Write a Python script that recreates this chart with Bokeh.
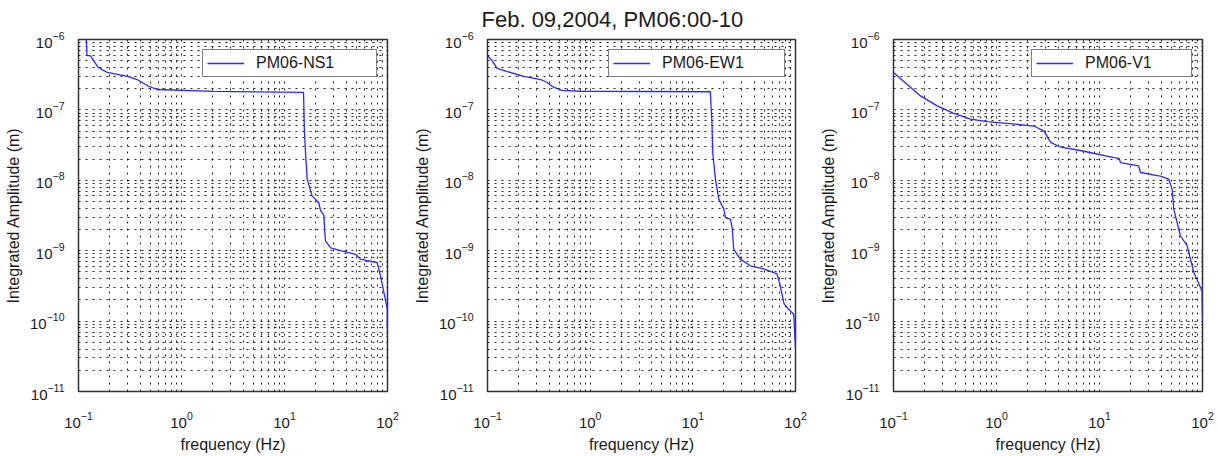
from bokeh.plotting import figure
from bokeh.layouts import row
from bokeh.models import Range1d, FixedTicker, Legend, LegendItem, Title
from bokeh.embed import file_html
from bokeh.resources import INLINE

# ---------------- data ----------------
ns1_freq = [0.119, 0.121, 0.13, 0.156, 0.19, 0.30, 0.37, 0.47, 0.58, 2.05, 15.3,
            15.6, 16.0, 16.6, 18.5, 21.5, 22.4, 24.1, 24.5, 25.0, 28, 35, 48.9,
            54.7, 63.5, 79.4, 85.5, 92, 99.4, 100]
ns1_amp = [1.0e-6, 5.9e-7, 5.9e-7, 4.0e-7, 3.4e-7, 3.0e-7, 2.7e-7, 2.2e-7, 1.95e-7,
           1.83e-7, 1.77e-7, 5.0e-8, 2.5e-8, 1.04e-8, 6.0e-9, 4.8e-9, 3.7e-9,
           3.2e-9, 2.0e-9, 1.38e-9, 1.1e-9, 1.0e-9, 8.9e-10, 7.6e-10, 7.2e-10,
           6.8e-10, 4.4e-10, 2.6e-10, 1.5e-10, 6.0e-11]

ew1_freq = [0.1, 0.111, 0.124, 0.156, 0.226, 0.33, 0.38, 0.44, 0.53, 0.81, 14.8,
            15.4, 15.6, 16.6, 17.9, 20, 20.8, 23.2, 24.2, 25, 29, 36.3, 49, 66,
            71, 77, 83, 96, 100]
ew1_amp = [5.9e-7, 5.0e-7, 3.9e-7, 3.5e-7, 3.0e-7, 2.7e-7, 2.45e-7, 2.1e-7, 1.9e-7,
           1.84e-7, 1.81e-7, 5.9e-8, 2.5e-8, 1.04e-8, 5.4e-9, 3.9e-9, 2.95e-9,
           2.8e-9, 2.1e-9, 1.05e-9, 7.6e-10, 6.1e-10, 5.5e-10, 4.7e-10, 3.2e-10,
           1.8e-10, 1.55e-10, 1.25e-10, 4.2e-11]

v1_freq = [0.1, 0.136, 0.183, 0.265, 0.385, 0.56, 0.81, 1.18, 2.3, 2.9, 3.35, 4.2,
           6.5, 13.8, 15.5, 16.0, 24, 25, 39, 47, 50.7, 52.6, 61, 71, 82.4, 95.7,
           99, 100]
v1_amp = [3.4e-7, 2.3e-7, 1.58e-7, 1.14e-7, 8.9e-8, 7.4e-8, 6.8e-8, 6.5e-8, 5.9e-8,
          5.0e-8, 3.45e-8, 2.95e-8, 2.65e-8, 2.1e-8, 2.05e-8, 1.78e-8, 1.6e-8,
          1.29e-8, 1.15e-8, 1.04e-8, 7.5e-9, 3.9e-9, 1.63e-9, 1.17e-9, 4.9e-10,
          3.0e-10, 2.6e-10, 1.0e-10]

series_names = ["PM06-NS1", "PM06-EW1", "PM06-V1"]
title_text = "Feb. 09,2004, PM06:00-10"
x_label = "frequency (Hz)"
y_label = "Integrated Amplitude (m)"

x_decades = [-1, 0, 1, 2]
y_decades = [-11, -10, -9, -8, -7, -6]

FONT = "Liberation Sans"
TEXT = "#1a1a1a"


def ticks(decades):
    major = [10.0 ** d for d in decades]
    minor = [m * 10.0 ** d for d in decades[:-1] for m in range(2, 10)]
    return major, minor


def make_panel(freq, amp, name, fw, bl, br, label_width):
    p = figure(frame_width=fw, frame_height=352, x_axis_type="log", y_axis_type="log",
               x_range=Range1d(0.1, 100), y_range=Range1d(1e-11, 1e-6),
               output_backend="svg", toolbar_location=None,
               min_border_left=bl, min_border_right=br,
               min_border_top=37, min_border_bottom=67)
    p.background_fill_color = "white"
    p.border_fill_color = "white"
    p.outline_line_color = "#333333"
    p.outline_line_width = 1.5

    xmaj, xmin = ticks(x_decades)
    ymaj, ymin = ticks(y_decades)
    p.xaxis.ticker = FixedTicker(ticks=xmaj, minor_ticks=xmin)
    p.yaxis.ticker = FixedTicker(ticks=ymaj, minor_ticks=ymin)

    for ax in (p.xaxis[0], p.yaxis[0]):
        ax.axis_line_color = None
        ax.major_tick_line_color = None
        ax.minor_tick_line_color = None
        ax.major_label_text_font = FONT
        ax.major_label_text_font_size = "15px"
        ax.major_label_text_color = TEXT
        ax.axis_label_text_font = FONT
        ax.axis_label_text_font_size = "16px"
        ax.axis_label_text_font_style = "normal"
        ax.axis_label_text_color = TEXT
    p.xaxis.axis_label = x_label
    p.yaxis.axis_label = y_label
    p.xaxis.major_label_standoff = 14
    p.xaxis.axis_label_standoff = 5
    p.yaxis.major_label_standoff = 8
    p.yaxis.axis_label_standoff = 5

    for g in (p.xgrid[0], p.ygrid[0]):
        g.grid_line_color = "black"
        g.grid_line_dash = "2 5"
        g.grid_line_width = 1
        g.grid_line_alpha = 0.85
        g.minor_grid_line_color = "black"
        g.minor_grid_line_dash = "2 5"
        g.minor_grid_line_width = 1
        g.minor_grid_line_alpha = 0.85

    r = p.line(freq, amp, line_color="#2a2aff", line_width=1.3)

    legend = Legend(items=[LegendItem(label=name, renderers=[r])],
                    location="top_right")
    legend.margin = 10
    legend.padding = 4
    legend.spacing = 0
    legend.glyph_width = 37
    legend.glyph_height = 16
    legend.label_height = 16
    legend.label_width = label_width
    legend.label_standoff = 12
    legend.label_text_font = FONT
    legend.label_text_font_size = "16px"
    legend.label_text_color = TEXT
    legend.border_line_color = "black"
    legend.border_line_width = 1.2
    legend.background_fill_color = "white"
    legend.background_fill_alpha = 1.0
    p.add_layout(legend)
    return p


p1 = make_panel(ns1_freq, ns1_amp, series_names[0], 309, 78, 24, 116)
p2 = make_panel(ew1_freq, ew1_amp, series_names[1], 308, 76, 21, 118)
p3 = make_panel(v1_freq, v1_amp, series_names[2], 309, 77, 16, 102)

title = Title(text=title_text, align="left", offset=-6, standoff=12,
              vertical_align="top",
              text_font=FONT, text_font_size="22px", text_color=TEXT,
              text_font_style="normal")
p2.add_layout(title, "above")

layout = row(p1, p2, p3)
open("out.html", "w").write(file_html(layout, INLINE))
